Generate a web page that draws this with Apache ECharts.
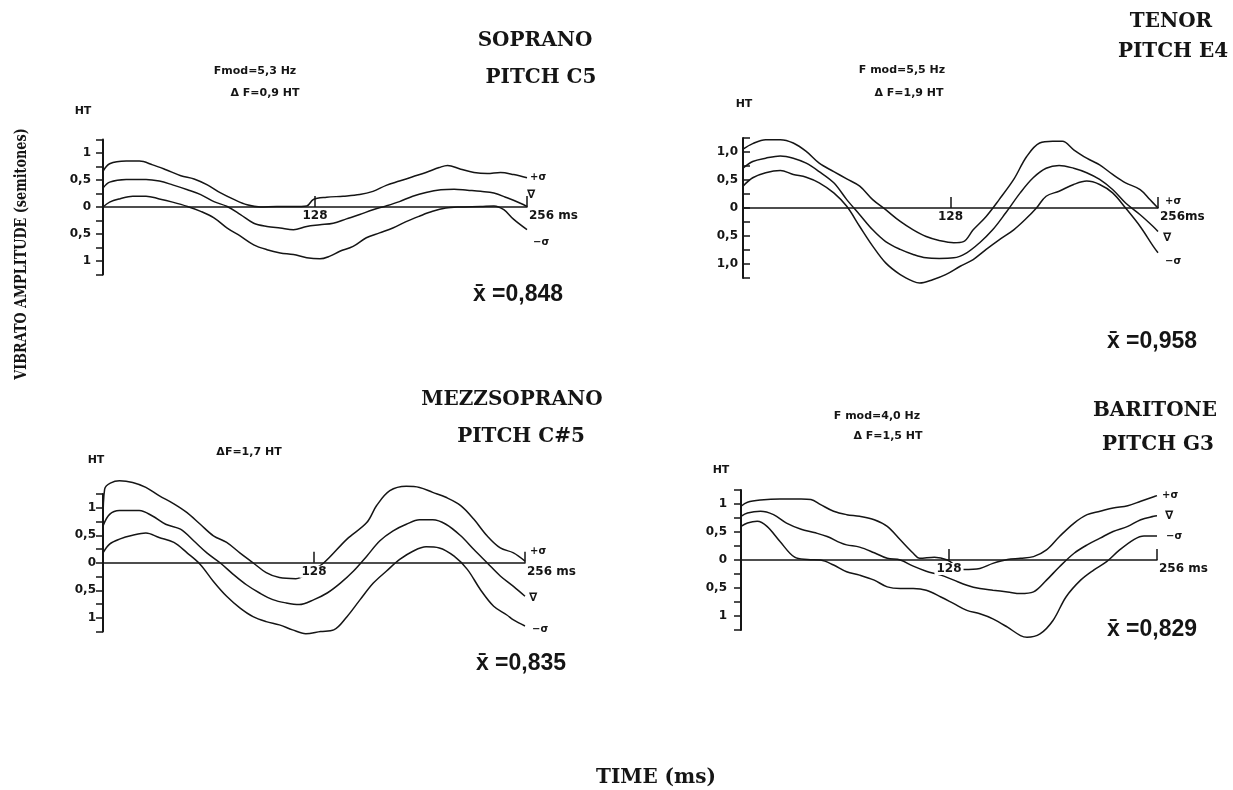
<!DOCTYPE html>
<html>
<head>
<meta charset="utf-8">
<script src="https://cdn.jsdelivr.net/npm/echarts@6/dist/echarts.min.js"></script>
<style>
  html, body { margin: 0; padding: 0; background: #fff; }
  #chart { width: 1233px; height: 790px; }
</style>
</head>
<body>
<div id="chart"></div>
<script>
// Vibrato excursion over one 256 ms window, in semitones (HT).
// Each singer: upper envelope (+σ), mean course (∇) and lower envelope (−σ) as [ms, HT].

const sopranoUpper = [[0,0.66],[4,0.8],[14,0.85],[22,0.85],[30,0.78],[38,0.69],[47,0.58],[55,0.52],[63,0.41],[71,0.26],[79,0.14],[87,0.04],[95,0],[105,0.01],[115,0.01],[123,0.02],[127,0.14],[135,0.18],[145,0.2],[155,0.23],[163,0.29],[171,0.4],[179,0.48],[187,0.56],[195,0.64],[203,0.73],[208,0.77],[216,0.7],[224,0.64],[232,0.62],[240,0.64],[248,0.6],[256,0.54]];
const sopranoMean = [[0,0.35],[4,0.46],[14,0.51],[26,0.51],[34,0.48],[42,0.41],[51,0.32],[59,0.23],[67,0.1],[75,0.01],[83,-0.14],[91,-0.3],[99,-0.36],[107,-0.39],[115,-0.42],[123,-0.36],[131,-0.33],[139,-0.3],[147,-0.22],[155,-0.14],[163,-0.05],[171,0.02],[179,0.1],[187,0.2],[195,0.27],[204,0.32],[212,0.33],[220,0.31],[228,0.29],[236,0.26],[244,0.17],[252,0.07],[256,0.01]];
const sopranoLower = [[0,0],[4,0.09],[10,0.15],[18,0.2],[26,0.2],[34,0.15],[42,0.09],[51,0.01],[59,-0.08],[67,-0.2],[75,-0.39],[83,-0.54],[91,-0.7],[99,-0.79],[107,-0.85],[115,-0.88],[123,-0.94],[131,-0.96],[137,-0.91],[143,-0.82],[151,-0.73],[159,-0.57],[167,-0.48],[175,-0.39],[183,-0.27],[191,-0.17],[199,-0.08],[207,-0.02],[215,0],[228,0.01],[236,0.02],[242,-0.05],[248,-0.23],[256,-0.42]];

const tenorUpper = [[0,1.05],[6,1.15],[14,1.22],[23,1.22],[31,1.16],[39,1.01],[47,0.8],[56,0.65],[64,0.52],[72,0.39],[80,0.15],[88,-0.03],[97,-0.24],[105,-0.39],[113,-0.51],[121,-0.58],[130,-0.62],[136,-0.6],[142,-0.39],[150,-0.15],[158,0.15],[167,0.51],[175,0.92],[183,1.16],[191,1.19],[197,1.19],[204,1.04],[212,0.89],[220,0.77],[228,0.6],[236,0.45],[245,0.33],[251,0.15],[256,0]];
const tenorMean = [[0,0.71],[6,0.83],[14,0.89],[23,0.93],[31,0.89],[39,0.8],[47,0.65],[56,0.45],[64,0.15],[72,-0.12],[80,-0.39],[88,-0.6],[97,-0.74],[105,-0.83],[113,-0.89],[121,-0.9],[130,-0.89],[138,-0.8],[146,-0.62],[154,-0.39],[162,-0.09],[171,0.27],[179,0.54],[187,0.71],[195,0.76],[204,0.71],[212,0.63],[220,0.51],[228,0.33],[236,0.09],[245,-0.12],[253,-0.33],[256,-0.42]];
const tenorLower = [[0,0.39],[6,0.54],[14,0.63],[23,0.67],[31,0.6],[39,0.55],[47,0.45],[56,0.27],[64,0.03],[72,-0.33],[80,-0.68],[88,-0.98],[97,-1.19],[105,-1.31],[109,-1.34],[117,-1.28],[125,-1.19],[134,-1.04],[142,-0.92],[150,-0.74],[158,-0.57],[167,-0.39],[175,-0.18],[181,0],[187,0.21],[195,0.3],[204,0.42],[212,0.48],[220,0.42],[228,0.27],[236,0],[245,-0.33],[253,-0.68],[256,-0.8]];

const mezzoUpper = [[0,0.7],[1,1.34],[10,1.49],[18,1.46],[26,1.37],[34,1.22],[43,1.07],[51,0.91],[59,0.7],[67,0.49],[75,0.37],[83,0.18],[91,0],[99,-0.18],[107,-0.27],[117,-0.29],[126,-0.15],[134,0],[148,0.43],[160,0.73],[166,1.04],[174,1.31],[184,1.39],[192,1.37],[200,1.28],[208,1.19],[217,1.04],[225,0.79],[233,0.49],[241,0.27],[249,0.18],[256,0.03]];
const mezzoMean = [[0,0.67],[4,0.88],[10,0.95],[22,0.95],[30,0.85],[38,0.7],[47,0.61],[55,0.4],[63,0.18],[71,0],[79,-0.21],[87,-0.4],[95,-0.55],[103,-0.67],[111,-0.73],[119,-0.76],[128,-0.67],[136,-0.55],[144,-0.37],[152,-0.15],[160,0.12],[168,0.4],[176,0.58],[184,0.7],[192,0.78],[200,0.78],[208,0.7],[217,0.49],[225,0.24],[233,0],[241,-0.24],[249,-0.43],[256,-0.61]];
const mezzoLower = [[0,0.18],[4,0.34],[10,0.43],[18,0.5],[26,0.54],[34,0.46],[43,0.37],[51,0.18],[59,-0.03],[67,-0.34],[75,-0.61],[83,-0.82],[91,-0.98],[99,-1.07],[107,-1.13],[115,-1.22],[123,-1.29],[132,-1.25],[140,-1.22],[148,-0.98],[156,-0.67],[164,-0.37],[172,-0.15],[180,0.06],[188,0.21],[196,0.29],[204,0.27],[213,0.12],[221,-0.12],[229,-0.49],[237,-0.79],[245,-0.95],[249,-1.04],[256,-1.15]];

const baritoneUpper = [[0,0.96],[4,1.03],[12,1.07],[24,1.09],[37,1.09],[43,1.08],[49,0.99],[57,0.87],[65,0.81],[73,0.78],[82,0.72],[90,0.6],[98,0.36],[106,0.12],[110,0.03],[119,0.05],[127,0],[137,-0.17],[147,-0.15],[155,-0.06],[164,0.01],[172,0.03],[180,0.06],[188,0.18],[196,0.42],[205,0.66],[213,0.81],[221,0.87],[229,0.93],[238,0.97],[246,1.05],[254,1.13],[256,1.15]];
const baritoneMean = [[0,0.78],[4,0.84],[12,0.87],[20,0.81],[28,0.66],[37,0.55],[45,0.49],[53,0.42],[61,0.31],[65,0.27],[73,0.23],[82,0.13],[90,0.03],[98,0],[106,-0.11],[114,-0.2],[123,-0.27],[131,-0.36],[139,-0.45],[147,-0.51],[155,-0.54],[164,-0.57],[172,-0.6],[180,-0.57],[188,-0.36],[196,-0.12],[205,0.12],[213,0.27],[221,0.39],[229,0.51],[238,0.6],[246,0.72],[254,0.78],[256,0.79]];
const baritoneLower = [[0,0.6],[4,0.66],[10,0.69],[16,0.6],[24,0.33],[33,0.05],[41,0.01],[49,0],[57,-0.09],[65,-0.21],[73,-0.27],[82,-0.36],[90,-0.48],[98,-0.51],[106,-0.51],[114,-0.54],[123,-0.66],[131,-0.78],[139,-0.9],[147,-0.96],[155,-1.05],[164,-1.2],[172,-1.35],[176,-1.38],[184,-1.32],[192,-1.08],[200,-0.66],[209,-0.36],[217,-0.18],[225,-0.03],[233,0.18],[242,0.37],[248,0.43],[256,0.43]];

// Axis ticks and labels
const timeTicks = [0, 128, 256];
const amplitudeTicks = [-1, -0.5, 0, 0.5, 1];
const amplitudeRange = [-1.25, 1.25];
const curveNames = ['+σ', '∇', '−σ'];

const INK = '#151515';
const SANS = '"DejaVu Sans", sans-serif';
const SERIF = '"DejaVu Serif", serif';

// one panel per voice: grid placement, axis styling and label offsets
const panels = [
  { grid: { left: 103, top: 139.5, width: 424, height: 135 }, curves: [sopranoUpper, sopranoMean, sopranoLower],
    msLabel: '256 ms', tickInside: false, labelMargin: 12, decimals: false,
    endOffsets: [[0, 0], [-3, -12], [3, 13]] },
  { grid: { left: 743, top: 138, width: 415, height: 140 }, curves: [tenorUpper, tenorMean, tenorLower],
    msLabel: '256ms', tickInside: true, labelMargin: 5, decimals: true,
    endOffsets: [[4, -7], [2, 6], [4, 9]] },
  { grid: { left: 103, top: 494, width: 422, height: 137.5 }, curves: [mezzoUpper, mezzoMean, mezzoLower],
    msLabel: '256 ms', tickInside: false, labelMargin: 7, decimals: false,
    endOffsets: [[2, -10], [1, 2], [4, 3]] },
  { grid: { left: 741, top: 490, width: 416, height: 140 }, curves: [baritoneUpper, baritoneMean, baritoneLower],
    msLabel: '256 ms', tickInside: false, labelMargin: 14, decimals: false,
    endOffsets: [[2, 0], [5, 0], [6, 0]] }
];

function amplitudeLabel(decimals) {
  return function (v) {
    const hit = amplitudeTicks.some(t => Math.abs(t - v) < 1e-6);
    if (!hit) return '';
    const a = Math.abs(v);
    if (a === 0) return '0';
    return decimals ? a.toFixed(1).replace('.', ',') : (a === 1 ? '1' : '0,5');
  };
}

// the time axis runs through the zero line of the amplitude axis
const zeroShare = (0 - amplitudeRange[0]) / (amplitudeRange[1] - amplitudeRange[0]);

const grid = [], xAxis = [], yAxis = [], series = [];
panels.forEach((p, i) => {
  grid.push(Object.assign({ containLabel: false, outerBoundsMode: 'none' }, p.grid));
  xAxis.push({
    gridIndex: i, type: 'value', position: 'bottom', offset: -p.grid.height * zeroShare,
    min: timeTicks[0], max: timeTicks[2], interval: timeTicks[1] - timeTicks[0], z: 3,
    axisLine: { show: true, onZero: false, lineStyle: { color: INK, width: 1.5 } },
    axisTick: { show: true, inside: true, length: 11, lineStyle: { color: INK, width: 1.5 } },
    axisLabel: {
      show: true, margin: 3, color: INK, fontFamily: SANS, fontWeight: 'bold', fontSize: 12,
      backgroundColor: '#fff', padding: [0, 2, 0, 2], alignMaxLabel: 'left',
      formatter: v => v === timeTicks[1] ? String(timeTicks[1]) : (v === timeTicks[2] ? p.msLabel : '')
    },
    splitLine: { show: false }
  });
  yAxis.push({
    gridIndex: i, type: 'value', min: amplitudeRange[0], max: amplitudeRange[1], interval: 0.25,
    axisLine: { show: true, onZero: false, lineStyle: { color: INK, width: 2 } },
    axisTick: { show: true, inside: p.tickInside, length: 7, lineStyle: { color: INK, width: 1.5 } },
    axisLabel: { show: true, margin: p.labelMargin, color: INK, fontFamily: SANS, fontWeight: 'bold', fontSize: 12,
      formatter: amplitudeLabel(p.decimals) },
    splitLine: { show: false }
  });
  p.curves.forEach((data, k) => {
    series.push({
      type: 'line', xAxisIndex: i, yAxisIndex: i, data: data,
      showSymbol: false, symbol: 'none', smooth: 0.35, clip: false, silent: true, z: 2,
      lineStyle: { color: INK, width: 1.5 },
      endLabel: {
        show: true, formatter: curveNames[k], color: INK, distance: 3,
        offset: p.endOffsets[k], fontFamily: SANS, fontWeight: 'bold', fontSize: k === 1 ? 12 : 10
      }
    });
  });
});

function txt(text, x, y, font, extra) {
  return Object.assign({
    type: 'text', x: x, y: y, silent: true,
    style: { text: text, font: font, fill: INK, textAlign: 'center', textVerticalAlign: 'middle',
      align: 'center', verticalAlign: 'middle' }
  }, extra || {});
}

const titleFont = 'bold 20px ' + SERIF;
const noteFont = 'bold 11px ' + SANS;
const meanFont = 'bold 23px "Liberation Sans", Arial, sans-serif';

const graphic = [
  txt('SOPRANO', 535, 41, titleFont), txt('PITCH C5', 541, 78, titleFont),
  txt('Fmod=5,3 Hz', 255, 71, noteFont), txt('Δ F=0,9 HT', 265, 93, noteFont),
  txt('HT', 83, 111, noteFont), txt('x̄ =0,848', 518, 295, meanFont),

  txt('TENOR', 1171, 22, titleFont), txt('PITCH E4', 1173, 52, titleFont),
  txt('F mod=5,5 Hz', 902, 70, noteFont), txt('Δ F=1,9 HT', 909, 93, noteFont),
  txt('HT', 744, 104, noteFont), txt('x̄ =0,958', 1152, 342, meanFont),

  txt('MEZZSOPRANO', 512, 400, titleFont), txt('PITCH C#5', 521, 437, titleFont),
  txt('ΔF=1,7 HT', 249, 452, noteFont),
  txt('HT', 96, 460, noteFont), txt('x̄ =0,835', 521, 664, meanFont),

  txt('BARITONE', 1155, 411, titleFont), txt('PITCH G3', 1158, 445, titleFont),
  txt('F mod=4,0 Hz', 877, 416, noteFont), txt('Δ F=1,5 HT', 888, 436, noteFont),
  txt('HT', 721, 470, noteFont), txt('x̄ =0,829', 1152, 630, meanFont),

  txt('TIME (ms)', 656, 778, 'bold 20px ' + SERIF),
  txt('VIBRATO AMPLITUDE (semitones)', 22, 254, 'bold 16px ' + SERIF, { rotation: Math.PI / 2, scaleX: 0.8 })
];

const chart = echarts.init(document.getElementById('chart'), null, { renderer: 'canvas' });
chart.setOption({
  backgroundColor: '#fff',
  animation: false,
  grid: grid,
  xAxis: xAxis,
  yAxis: yAxis,
  series: series,
  graphic: graphic
});
</script>
</body>
</html>
